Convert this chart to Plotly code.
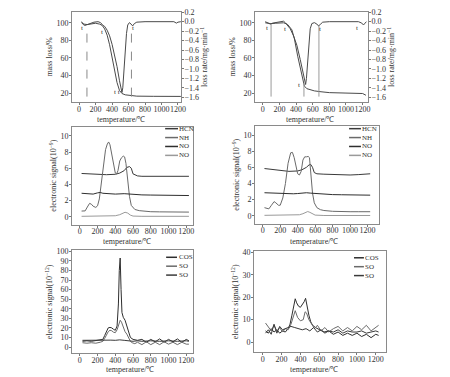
import plotly.graph_objects as go

W, H = 450, 377
def fx(p): return p / W
def fy(p): return 1 - p / H

SERIF = "Liberation Serif"

# ---------------- Panel 1 (top-left) TG / DTG ----------------
p1_T_tg = [30, 60, 100, 150, 200, 250, 280, 310, 340, 370, 400, 430, 460, 490, 520, 560, 620, 700, 900, 1200, 1235]
p1_tg = [100, 98.5, 98, 98.8, 99.5, 98.5, 97, 93, 86, 75, 60, 45, 32, 23, 19.5, 18, 17, 16.5, 16.3, 16.2, 16.2]
p1_T_dtg = [30, 50, 70, 100, 130, 180, 230, 260, 290, 310, 340, 370, 400, 430, 460, 490, 510, 520, 530, 545, 560, 575, 590, 610, 630, 650, 670, 700, 800, 1000, 1150, 1180, 1200, 1235]
p1_dtg = [0, -0.06, -0.08, -0.06, -0.04, -0.01, 0, -0.02, -0.08, -0.1, -0.18, -0.3, -0.48, -0.7, -0.95, -1.25, -1.45, -1.5, -1.4, -1.0, -0.6, -0.25, -0.07, -0.02, -0.05, -0.09, -0.04, -0.01, 0, 0, 0, -0.03, -0.01, 0]
p1_vlines = [95, 635]
p1_vline_y = [16, 98]
p1_t_labels_x = [36, 277, 460, 648]
p1_t_labels_y = [94, 90, 21, 94]
p1_t_labels = ["t", "t", "t t", "t"]

# ---------------- Panel 2 (top-right) TG / DTG ----------------
p2_T_tg = [30, 100, 150, 250, 280, 300, 350, 380, 420, 450, 480, 500, 530, 570, 620, 700, 800, 1000, 1150, 1200, 1240]
p2_tg = [100, 99, 99.5, 100, 99, 98, 92, 82, 62, 48, 34, 28, 25, 23.5, 22.5, 21.5, 20.5, 20, 19.8, 19.5, 17.5]
p2_T_dtg = [30, 60, 90, 120, 200, 250, 270, 290, 330, 370, 410, 450, 480, 505, 515, 525, 540, 555, 570, 590, 620, 650, 670, 690, 720, 800, 1000, 1150, 1190, 1210, 1230, 1245]
p2_dtg = [0, -0.03, -0.05, -0.03, 0, 0.01, -0.02, -0.06, -0.15, -0.3, -0.5, -0.8, -1.05, -1.3, -1.33, -1.2, -0.85, -0.45, -0.15, -0.04, -0.02, -0.05, -0.09, -0.06, -0.01, 0, 0, 0, -0.03, -0.07, -0.03, 0]
p2_vlines = [100, 495, 675]
p2_vline_y0 = [16, 16, 16]
p2_vline_y1 = [99, 31, 97]
p2_t_labels_x = [51, 268, 435, 684, 1132]
p2_t_labels_y = [93.6, 93, 29, 93, 94]

# ---------------- Panel 3 (mid-left) ----------------
p3_T_hcn = [20, 100, 200, 300, 400, 450, 500, 530, 560, 580, 600, 650, 700, 800, 900, 1000, 1100, 1230]
p3_hcn = [5.35, 5.3, 5.25, 5.2, 5.25, 5.4, 5.7, 6.1, 6.2, 6.0, 5.3, 5.05, 5.0, 5.0, 4.98, 4.97, 4.95, 5.0]
p3_T_nh = [20, 60, 85, 110, 130, 150, 180, 200, 220, 240, 260, 290, 310, 325, 340, 360, 380, 400, 415, 430, 450, 470, 490, 505, 520, 540, 560, 580, 620, 670, 720, 800, 900, 1000, 1100, 1230]
p3_nh = [0.7, 0.72, 1.2, 1.65, 1.55, 1.3, 1.15, 1.35, 2.2, 3.8, 5.6, 8.3, 9.0, 9.25, 8.9, 7.7, 6.2, 5.4, 5.3, 5.7, 6.9, 7.3, 7.5, 7.4, 6.6, 4.5, 2.5, 1.4, 0.9, 0.75, 0.68, 0.62, 0.6, 0.58, 0.57, 0.57]
p3_T_no = [20, 100, 150, 200, 230, 260, 300, 400, 500, 600, 700, 800, 900, 1000, 1100, 1230]
p3_no = [2.9, 2.85, 2.8, 2.95, 3.0, 2.9, 2.85, 2.8, 2.85, 2.75, 2.7, 2.68, 2.65, 2.65, 2.62, 2.62]
p3_T_no2 = [20, 200, 400, 450, 480, 510, 540, 570, 600, 700, 1230]
p3_no2 = [0.05, 0.07, 0.12, 0.25, 0.42, 0.55, 0.45, 0.2, 0.08, 0.05, 0.05]

# ---------------- Panel 4 (mid-right) ----------------
p4_T_hcn = [20, 100, 200, 300, 400, 450, 500, 530, 550, 570, 590, 620, 700, 800, 900, 1000, 1100, 1200, 1230]
p4_hcn = [5.85, 5.75, 5.6, 5.5, 5.55, 5.7, 6.0, 6.3, 6.35, 6.0, 5.35, 5.2, 5.15, 5.1, 5.05, 5.05, 5.1, 5.15, 5.2]
p4_T_nh = [20, 50, 70, 100, 130, 150, 180, 200, 230, 260, 290, 320, 340, 360, 380, 400, 420, 440, 460, 480, 500, 520, 535, 550, 570, 590, 620, 660, 700, 800, 900, 1000, 1100, 1230]
p4_nh = [1.0, 0.85, 0.85, 1.3, 1.75, 1.6, 1.3, 1.3, 2.2, 4.0, 6.5, 7.8, 7.85, 7.2, 6.0, 5.2, 5.05, 5.5, 6.9, 7.3, 7.3, 7.35, 7.2, 5.5, 2.8, 1.6, 1.0, 0.75, 0.65, 0.55, 0.5, 0.5, 0.5, 0.5]
p4_T_no = [20, 100, 200, 300, 350, 400, 500, 550, 650, 800, 900, 1000, 1100, 1230]
p4_no = [2.85, 2.8, 2.78, 2.75, 2.72, 2.75, 2.85, 2.8, 2.7, 2.62, 2.6, 2.58, 2.55, 2.55]
p4_T_no2 = [20, 300, 420, 460, 490, 515, 540, 570, 600, 700, 1230]
p4_no2 = [0.05, 0.08, 0.12, 0.25, 0.42, 0.52, 0.42, 0.2, 0.08, 0.03, 0.03]

# ---------------- Panel 5 (bottom-left) ----------------
p5_T_cos = [30, 80, 130, 180, 230, 260, 280, 300, 320, 340, 360, 380, 400, 420, 435, 445, 455, 465, 475, 490, 510, 530, 550, 570, 600, 650, 700, 750, 800, 850, 900, 950, 1000, 1050, 1100, 1150, 1200, 1230]
p5_cos = [6, 6.5, 6, 6.5, 7, 8, 12, 17, 20, 20.5, 20, 18.5, 17.5, 22, 45, 80, 93, 60, 36, 31, 28, 22, 15, 10, 8, 7, 8, 5, 8, 5.5, 8.5, 5, 8, 5.5, 8.5, 5, 8, 6.5]
p5_T_so2 = [30, 80, 130, 180, 230, 260, 280, 300, 320, 340, 360, 380, 400, 420, 440, 455, 470, 490, 510, 530, 550, 570, 590, 620, 650, 700, 750, 800, 850, 900, 950, 1000, 1050, 1100, 1150, 1200, 1230]
p5_so2 = [4.5, 4, 4.5, 4, 5, 6, 9, 13, 16, 17.5, 17, 15.5, 15, 18, 25, 28, 26, 20, 16, 13.5, 9, 6, 4.5, 3.5, 5, 2.5, 5.5, 2.5, 5, 2.5, 5.5, 3, 5, 2.5, 5, 3, 3]
p5_T_so3 = [30, 100, 200, 250, 300, 350, 400, 450, 500, 550, 600, 650, 700, 800, 900, 1000, 1100, 1200, 1230]
p5_so3 = [7, 7.2, 7, 7.5, 7.5, 7.2, 7, 7.5, 7, 6.5, 6, 6.5, 6, 6.5, 6, 6.5, 6, 6.5, 6]

# ---------------- Panel 6 (bottom-right) ----------------
p6_T_cos = [30, 60, 90, 120, 150, 180, 210, 240, 270, 290, 310, 330, 345, 360, 380, 400, 420, 440, 455, 470, 490, 510, 530, 560, 600, 650, 700, 750, 800, 850, 900, 950, 1000, 1050, 1100, 1150, 1200, 1230]
p6_cos = [5, 4, 6, 4.5, 5.5, 4, 5, 4.5, 6, 8, 12, 16, 19.3, 17.5, 16, 15.5, 16.5, 18, 19.5, 16, 12, 9, 7.5, 6.5, 5.5, 4.5, 5, 3.5, 4.5, 3, 4, 3, 4, 2.5, 3.5, 2, 3.5, 3]
p6_T_so2 = [30, 60, 90, 120, 150, 180, 210, 240, 270, 300, 320, 345, 370, 400, 430, 450, 465, 490, 520, 550, 580, 620, 660, 700, 750, 800, 850, 900, 950, 1000, 1050, 1100, 1150, 1200, 1230]
p6_so2 = [8.5, 7, 5, 7.5, 5, 6.5, 4.5, 6, 5.5, 8, 11, 14, 11, 9.5, 10, 13.5, 13, 10, 8, 6, 7.5, 5, 6.5, 4.5, 6, 7, 5, 6.5, 5, 7, 5.5, 7.5, 5, 6.5, 7.5]
p6_T_so3 = [30, 60, 90, 120, 150, 180, 210, 240, 270, 300, 340, 380, 420, 460, 500, 540, 580, 620, 660, 700, 750, 800, 850, 900, 950, 1000, 1050, 1100, 1150, 1200, 1230]
p6_so3 = [4, 5.5, 3.5, 8, 4, 7, 5.5, 6, 6.5, 7, 6.5, 6, 5.5, 6, 5, 6.5, 4.5, 5.5, 4, 5, 4.5, 5.5, 4, 5, 4.5, 4.5, 5, 4, 4.5, 5, 4.5]

legend_n = ["HCN", "NH", "NO", "NO"]
legend_s = ["COS", "SO", "SO"]

C_DARK = "#3a3a3a"
C_MID = "#6a6a6a"
C_DK2 = "#2e2e2e"
C_LIGHT = "#9a9a9a"

fig = go.Figure()

def line(x, y, xa, ya, color, width=1, dash=None):
    fig.add_trace(go.Scatter(x=x, y=y, xaxis=xa, yaxis=ya, mode="lines",
                             line=dict(color=color, width=width, dash=dash),
                             showlegend=False, hoverinfo="skip"))

# panel 1
line(p1_T_tg, p1_tg, "x", "y", "#4a4a4a")
line(p1_T_dtg, p1_dtg, "x", "y2", "#4a4a4a")
for v in p1_vlines:
    line([v, v], p1_vline_y, "x", "y", "#8a8a8a", 1, "dash")
# panel 2
line(p2_T_tg, p2_tg, "x2", "y3", "#4a4a4a")
line(p2_T_dtg, p2_dtg, "x2", "y4", "#4a4a4a")
for v, a, b in zip(p2_vlines, p2_vline_y0, p2_vline_y1):
    line([v, v], [a, b], "x2", "y3", "#9a9a9a", 1)
# panel 3
line(p3_T_hcn, p3_hcn, "x3", "y5", C_DARK)
line(p3_T_nh, p3_nh, "x3", "y5", C_MID)
line(p3_T_no, p3_no, "x3", "y5", C_DK2)
line(p3_T_no2, p3_no2, "x3", "y5", C_LIGHT)
# panel 4
line(p4_T_hcn, p4_hcn, "x4", "y6", C_DARK)
line(p4_T_nh, p4_nh, "x4", "y6", C_MID)
line(p4_T_no, p4_no, "x4", "y6", C_DK2)
line(p4_T_no2, p4_no2, "x4", "y6", C_LIGHT)
# panel 5
line(p5_T_cos, p5_cos, "x5", "y7", C_DK2)
line(p5_T_so2, p5_so2, "x5", "y7", C_MID)
line(p5_T_so3, p5_so3, "x5", "y7", C_DARK)
# panel 6
line(p6_T_cos, p6_cos, "x6", "y8", C_DK2)
line(p6_T_so2, p6_so2, "x6", "y8", C_MID)
line(p6_T_so3, p6_so3, "x6", "y8", C_DARK)

tickfont = dict(family=SERIF, size=8, color="#333")
titlefont = dict(family=SERIF, size=8, color="#333")
base = dict(showline=True, linecolor="#8a8a8a", linewidth=1, ticks="outside", ticklen=2,
            tickwidth=1, tickcolor="#777", showgrid=False, zeroline=False, tickfont=tickfont)

def xax(d, anchor, rng):
    return dict(base, domain=[fx(d[0]), fx(d[1])], anchor=anchor, range=rng, tick0=0, dtick=200,
                tickangle=0, mirror=True, ticklabelstandoff=-3)

def yax(d, anchor, rng, dtick, title, **kw):
    return dict(base, domain=[fy(d[1]), fy(d[0])], anchor=anchor, range=rng, tick0=0, dtick=dtick,
                ticklabelstandoff=-1,
                title=dict(text=title, font=titlefont, standoff=2), **kw)

es9 = "electronic signal(10<sup>−9</sup>)"
es12 = "electronic signal(10<sup>−12</sup>)"
rate_title = "loss rate/mg·min<sup>−1</sup>"
rate_ticks = [0.2, 0, -0.2, -0.4, -0.6, -0.8, -1.0, -1.2, -1.4, -1.6]
x_title = "temperature/℃"

fig.update_layout(
    width=W, height=H, margin=dict(l=0, r=0, t=0, b=0),
    paper_bgcolor="white", plot_bgcolor="white", showlegend=False,
    xaxis=xax((73, 183), "y", [-84, 1236]),
    yaxis=yax((8, 99), "x", [9.9, 112.4], 20, "mass loss/%", mirror=True),
    yaxis2=dict(base, overlaying="y", side="right", anchor="x", range=[-1.70, 0.207],
                tickvals=rate_ticks, tickformat=".1f", ticklabelstandoff=-1,
                title=dict(text=rate_title, font=titlefont, standoff=2)),
    xaxis2=xax((258, 372), "y3", [-91.5, 1263]),
    yaxis3=yax((8, 99), "x2", [9.9, 112.4], 20, "mass loss/%", mirror=True),
    yaxis4=dict(base, overlaying="y3", side="right", anchor="x2", range=[-1.70, 0.207],
                tickvals=rate_ticks, tickformat=".1f", ticklabelstandoff=-1,
                title=dict(text=rate_title, font=titlefont, standoff=2)),
    xaxis3=xax((73, 195), "y5", [-86, 1274]),
    yaxis5=yax((124, 223), "x3", [-0.98, 11.14], 2, es9, mirror=True),
    xaxis4=xax((258, 383), "y6", [-87, 1328]),
    yaxis6=yax((123, 222), "x4", [-0.98, 11.16], 2, es9, mirror=True),
    xaxis5=xax((73, 195), "y7", [-86, 1274]),
    yaxis7=yax((249, 353), "x5", [-6.5, 101], 10, es12, mirror=True),
    xaxis6=xax((257, 390), "y8", [-91, 1305]),
    yaxis8=yax((250, 352), "x6", [-4.5, 40.4], 10, es12, mirror=True),
)

anns = []
for x, y, t in zip(p1_t_labels_x, p1_t_labels_y, p1_t_labels):
    anns.append(dict(x=x, y=y, xref="x", yref="y", text=t, showarrow=False,
                     font=dict(family=SERIF, size=7, color="#333")))
for x, y in zip(p2_t_labels_x, p2_t_labels_y):
    anns.append(dict(x=x, y=y, xref="x2", yref="y3", text="t", showarrow=False,
                     font=dict(family=SERIF, size=7, color="#333")))

# x-axis titles
for cx, cy in [(122, 117), (313, 117), (128, 240), (318, 240), (131, 369), (318, 369)]:
    anns.append(dict(x=fx(cx), y=fy(cy), xref="paper", yref="paper", text=x_title, showarrow=False,
                     xanchor="center", yanchor="middle", borderpad=0, font=titlefont))

shapes = []
def legend(names, colors, lx0, lx1, tx, rows):
    for n, c, r in zip(names, colors, rows):
        shapes.append(dict(type="line", xref="paper", yref="paper", x0=fx(lx0), x1=fx(lx1),
                           y0=fy(r), y1=fy(r), line=dict(color=c, width=1.5)))
        anns.append(dict(x=fx(tx), y=fy(r), xref="paper", yref="paper", text=n, showarrow=False,
                         xanchor="left", yanchor="middle", borderpad=0,
                         font=dict(family=SERIF, size=7, color="#333")))

legend(legend_n, [C_DARK, C_MID, C_DK2, C_LIGHT], 167, 180, 180, [126, 135, 144, 153])
legend(legend_n, [C_DARK, C_MID, C_DK2, C_LIGHT], 353, 365, 365, [126, 135, 144, 153])
legend(legend_s, [C_DK2, C_MID, C_DARK], 168, 179, 180, [256, 265, 274])
legend(legend_s, [C_DK2, C_MID, C_DARK], 358, 368, 368, [256.5, 265.5, 274.5])

fig.update_layout(annotations=anns, shapes=shapes)
fig.write_html("out.html", config={"displayModeBar": False},
               post_script="document.body.style.margin='0';")
